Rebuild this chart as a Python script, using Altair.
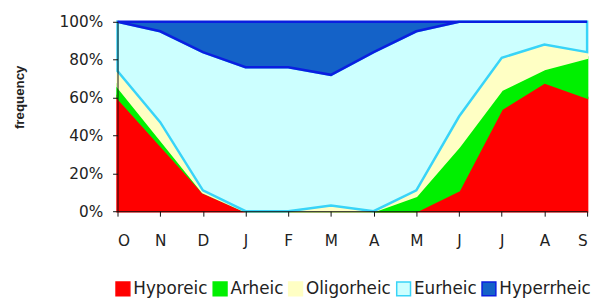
import altair as alt
import pandas as pd

months = ["O", "N", "D", "J", "F", "M", "A", "M", "J", "J", "A", "S"]
series = ["Hyporeic", "Arheic", "Oligorheic", "Eurheic", "Hyperrheic"]
hyporeic = [60, 35, 10, 0, 0, 0, 0, 0, 11, 54, 68, 60]
arheic = [6, 3, 0, 0, 0, 0, 0, 8, 23, 10, 7, 21]
oligorheic = [8, 9, 1, 0, 0, 3, 0, 3, 16, 17, 13, 3]
eurheic = [26, 48, 73, 76, 76, 69, 84, 84, 50, 19, 12, 16]
hyperrheic = [0, 5, 16, 24, 24, 28, 16, 5, 0, 0, 0, 0]
y_ticks = [0, 20, 40, 60, 80, 100]

fill_colors = ["#FF0000", "#00F000", "#FFFFC4", "#CCFFFF", "#1462C8"]
stroke_colors = ["#FF0000", "#00F000", "#FFFFC4", "#38D4F8", "#0A1EE0"]

values = [hyporeic, arheic, oligorheic, eurheic, hyperrheic]
rows = []
for s_i, (name, vals) in enumerate(zip(series, values)):
    for m_i, v in enumerate(vals):
        rows.append({"idx": m_i, "series": name, "order": s_i, "value": v})
df = pd.DataFrame(rows)

label_expr = "[" + ",".join("'%s'" % m for m in months) + "][datum.value]"

legend = alt.Legend(
    title=None,
    orient="none",
    direction="horizontal",
    columns=5,
    legendX=-3,
    legendY=262,
    symbolType="square",
    symbolSize=196,
    symbolStrokeWidth=1.5,
    labelFont="DejaVu Sans",
    labelFontSize=17,
    labelColor="#222",
    labelOffset=2,
    columnPadding=1.5,
)

chart = (
    alt.Chart(df)
    .mark_area(strokeWidth=2.5, opacity=1)
    .encode(
        x=alt.X(
            "idx:Q",
            scale=alt.Scale(domain=[0, 11], nice=False, zero=False),
            axis=alt.Axis(
                title=None,
                values=list(range(len(months))),
                labelExpr=label_expr,
                grid=False,
                tickSize=5,
                labelPadding=18,
                labelFont="DejaVu Sans",
                labelFontSize=15.5,
                labelColor="#222",
                domainColor="#111",
                tickColor="#111",
                zindex=1,
            ),
        ),
        y=alt.Y(
            "value:Q",
            stack="zero",
            scale=alt.Scale(domain=[0, 100], nice=False),
            axis=alt.Axis(
                title="frequency",
                values=y_ticks,
                labelExpr="datum.value + '%'",
                grid=False,
                tickSize=5,
                labelPadding=10,
                labelFont="DejaVu Sans",
                labelFontSize=15.5,
                labelColor="#222",
                domainColor="#111",
                tickColor="#111",
                titleFont="Liberation Sans",
                titleFontSize=13.5,
                titleFontWeight="bold",
                titleColor="#222",
                titleAngle=-90,
                titleAlign="center",
                titleBaseline="middle",
                titleX=-99,
                titleY=76,
                zindex=1,
            ),
        ),
        fill=alt.Fill("series:N", scale=alt.Scale(domain=series, range=fill_colors), legend=legend),
        stroke=alt.Stroke("series:N", scale=alt.Scale(domain=series, range=stroke_colors), legend=legend),
        order=alt.Order("order:Q", sort="ascending"),
    )
    .properties(
        width=476,
        height=192,
        autosize=alt.AutoSizeParams(type="none"),
        padding={"left": 111, "top": 12, "right": 8, "bottom": 88},
    )
    .configure_view(stroke=None)
)

chart.save("out.html", embed_options={"renderer": "svg", "actions": False})
